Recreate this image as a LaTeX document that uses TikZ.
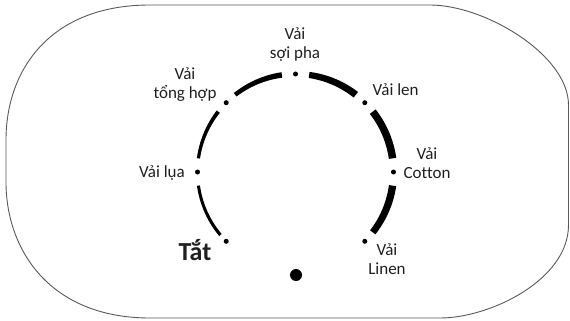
\documentclass[tikz,border=0pt]{standalone}
\usepackage{fontspec}
\setmainfont{Carlito}[Ligatures=NoCommon]
\begin{document}
\begin{tikzpicture}[x=1pt,y=-1pt,
  lbl/.style={font=\fontsize{17}{19}\selectfont, text=black!88, inner sep=0pt, align=center},
  dialdot/.style={circle, fill=black, inner sep=0pt, minimum size=5pt},
  knobdot/.style={circle, fill=black, inner sep=0pt, minimum size=12pt},
  frame/.style={draw=black!65, line width=0.9pt}]
\useasboundingbox (0,0) rectangle (570,321);
\def\cx{295.5}\def\cy{172}\def\R{98}
% outer frame
\draw[frame] (150,5) -- (430,5) .. controls (485,5) and (568.5,55) .. (568.5,105)
  -- (568.5,225) .. controls (568.5,280) and (490,318) .. (440,318)
  -- (150,318) .. controls (50,318) and (6,250) .. (6,182)
  -- (6,140) .. controls (6,70) and (50,5) .. (150,5) -- cycle;
% dial segments (width grows towards the right)
\foreach \a/\b in {188/220, 142/172, 98/128, 52/82, 8/38, -38/-8}{
  \fill[black] plot[domain=\a:\b, samples=25, variable=\t]
      ({\cx+(\R+0.5*(5.25+2.25*cos(\t-15)))*cos(\t)},{\cy-(\R+0.5*(5.25+2.25*cos(\t-15)))*sin(\t)})
    -- plot[domain=\b:\a, samples=25, variable=\t]
      ({\cx+(\R-0.5*(5.25+2.25*cos(\t-15)))*cos(\t)},{\cy-(\R-0.5*(5.25+2.25*cos(\t-15)))*sin(\t)})
    -- cycle;
}
% dots
\foreach \a/\n in {90/sp,45/len,0/cot,-45/lin,135/tong,180/lua,225/tat}
  \node[dialdot] (d\n) at ({\cx+\R*cos(\a)},{\cy-\R*sin(\a)}) {};
\node[knobdot] (knob) at (296,275) {};
% labels (base anchor = baseline of the last line)
\node[lbl, anchor=base] (lsp) at (295,59) {Vải\\sợi pha};
\node[lbl, anchor=base] (ltong) at (185,98) {Vải\\tổng hợp};
\node[lbl, anchor=base west] (llen) at (372.5,95) {Vải len};
\node[lbl, anchor=base] (lcot) at (427,178) {Vải\\Cotton};
\node[lbl, anchor=base east] (llua) at (185,177) {Vải lụa};
\node[lbl, anchor=base] (llin) at (387,274) {Vải\\Linen};
\node[font=\bfseries\fontsize{26}{28}\selectfont, text=black!88, inner sep=0pt, anchor=base] (ltat) at (195,260) {Tắt};
\end{tikzpicture}
\end{document}
